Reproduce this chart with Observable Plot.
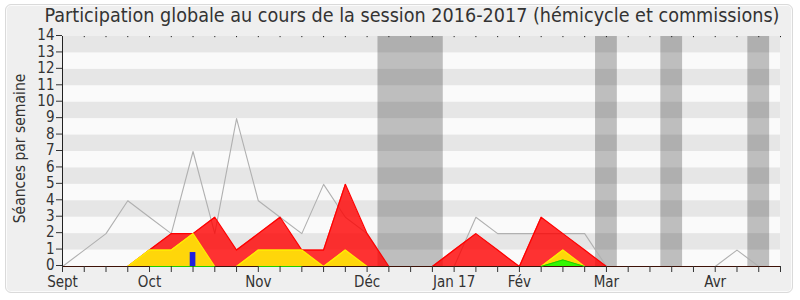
<!DOCTYPE html>
<html><head><meta charset="utf-8">
<script src="https://cdn.jsdelivr.net/npm/d3@7"></script>
<script src="https://cdn.jsdelivr.net/npm/@observablehq/plot@0.6"></script>
<style>
body{margin:0;background:#fff;}
#wrap{position:relative;width:800px;height:300px;font-family:"DejaVu Sans Condensed","DejaVu Sans",sans-serif;overflow:hidden;}
#box{position:absolute;left:5px;top:4px;width:786px;height:287px;background:#efefef;border:1px solid #dadada;border-radius:6px;box-shadow:inset 0 0 0 1px #fbfbfb;}
#title{position:absolute;left:0;top:3px;width:824px;text-align:center;font-size:19.6px;line-height:26px;color:#333;white-space:nowrap;}
#chart{position:absolute;left:0;top:0;}
</style></head>
<body>
<div id="wrap"><div id="box"></div><div id="chart"></div><div id="title">Participation globale au cours de la session 2016-2017 (hémicycle et commissions)</div></div>
<script>
// weekly index 0..33
const weeks = d3.range(0, 34);
const monthLabels = ["Sept","Oct","Nov","Déc","Jan 17","Fév","Mar","Avr"];
const monthWeeks = [0,4,9,14,18,21,25,30];
const totalLine = [0,1,2,4,3,2,7,2,9,4,3,2,5,3,2,0,0,0,0,3,2,2,2,2,2,0,0,0,0,0,0,1,0,0];
const redVals   = [0,0,0,0,1,2,2,3,1,2,3,1,1,5,2,0,0,0,1,2,1,0,3,2,1,0,0,0,0,0,0,0,0,0];
const yellowVals= [0,0,0,0,1,1,2,0,0,1,1,1,0,1,0,0,0,0,0,0,0,0,0,1,0,0,0,0,0,0,0,0,0,0];
const greenVals = [null,null,null,null,0,0,0,0,null,0,0,0,null,null,null,null,null,null,null,null,null,null,0,0.4,0,null,null,null,null,null,null,null,null,null];
const blueWeeks = [6];
const blueVals = [0.85];
const vacStart = [14.5, 24.5, 27.5, 31.5];
const vacEnd   = [17.5, 25.5, 28.5, 32.5];
const stripeLow = [1,3,5,7,9,11,13];
const yTicks = d3.range(0, 15);

const vac = vacStart.map((s, i) => ({s, e: vacEnd[i]}));
const blue = blueWeeks.map((w, i) => ({w, v: blueVals[i]}));
const lbl = new Map(monthWeeks.map((w, i) => [w, monthLabels[i]]));
const font = '"DejaVu Sans Condensed","DejaVu Sans",sans-serif';

const chart = Plot.plot({
  width: 800, height: 300,
  marginTop: 36, marginBottom: 34, marginLeft: 62, marginRight: 20,
  style: {background: "transparent", fontFamily: font, overflow: "visible"},
  x: {domain: [0, 33]},
  y: {domain: [0, 14]},
  marks: [
    Plot.rect([0], {x1: 0, x2: 33, y1: 0, y2: 14, fill: "#fafafa"}),
    Plot.rect(vac, {x1: "s", x2: "e", y1: 0, y2: 14, fill: "#bebebe"}),
    Plot.rect(stripeLow, {x1: 0, x2: 33, y1: d => d, y2: d => d + 1, fill: "#000", fillOpacity: 0.08}),
    Plot.ruleX(weeks, {x: d => d, y1: 14, y2: 13.93, stroke: "#222"}),
    Plot.lineY(weeks, {x: d => d, y: d => totalLine[d], stroke: "#b0b0b0", strokeWidth: 1.1}),
    Plot.areaY(weeks, {x: d => d, y: d => redVals[d], fill: "#ff0000", fillOpacity: 0.8}),
    Plot.lineY(weeks, {x: d => d, y: d => redVals[d], stroke: "#ff0000", strokeWidth: 1.2}),
    Plot.areaY(weeks, {x: d => d, y: d => yellowVals[d], fill: "#ffff00", fillOpacity: 0.8}),
    Plot.lineY(weeks, {x: d => d, y: d => yellowVals[d], stroke: "#ffee00", strokeWidth: 1.2}),
    Plot.ruleY([0], {stroke: "#3d1208", strokeWidth: 1.2}),
    Plot.areaY(weeks, {x: d => d, y: d => greenVals[d], fill: "#00ff00", fillOpacity: 0.8}),
    Plot.lineY(weeks, {x: d => d, y: d => greenVals[d], stroke: "#22cc00", strokeWidth: 1}),
    Plot.rect(blue, {x1: d => d.w - 0.13, x2: d => d.w + 0.13, y1: 0, y2: "v", fill: "#2020dd"}),
    Plot.ruleX([0], {stroke: "#222"}),
    Plot.axisY({ticks: yTicks, tickSize: 6, tickPadding: 2, fontSize: 15, label: null, color: "#333", dy: -1}),
    Plot.axisX({ticks: weeks, tickSize: 6, tickPadding: 4, fontSize: 15, label: null, color: "#333",
      tickFormat: d => lbl.get(d) ?? ""}),
    Plot.text(["Séances par semaine"], {frameAnchor: "left", rotate: -90, dx: -42, dy: -3, fontSize: 15.5, fill: "#333", textAnchor: "middle"})
  ]
});
document.getElementById("chart").appendChild(chart);
</script>
</body></html>
